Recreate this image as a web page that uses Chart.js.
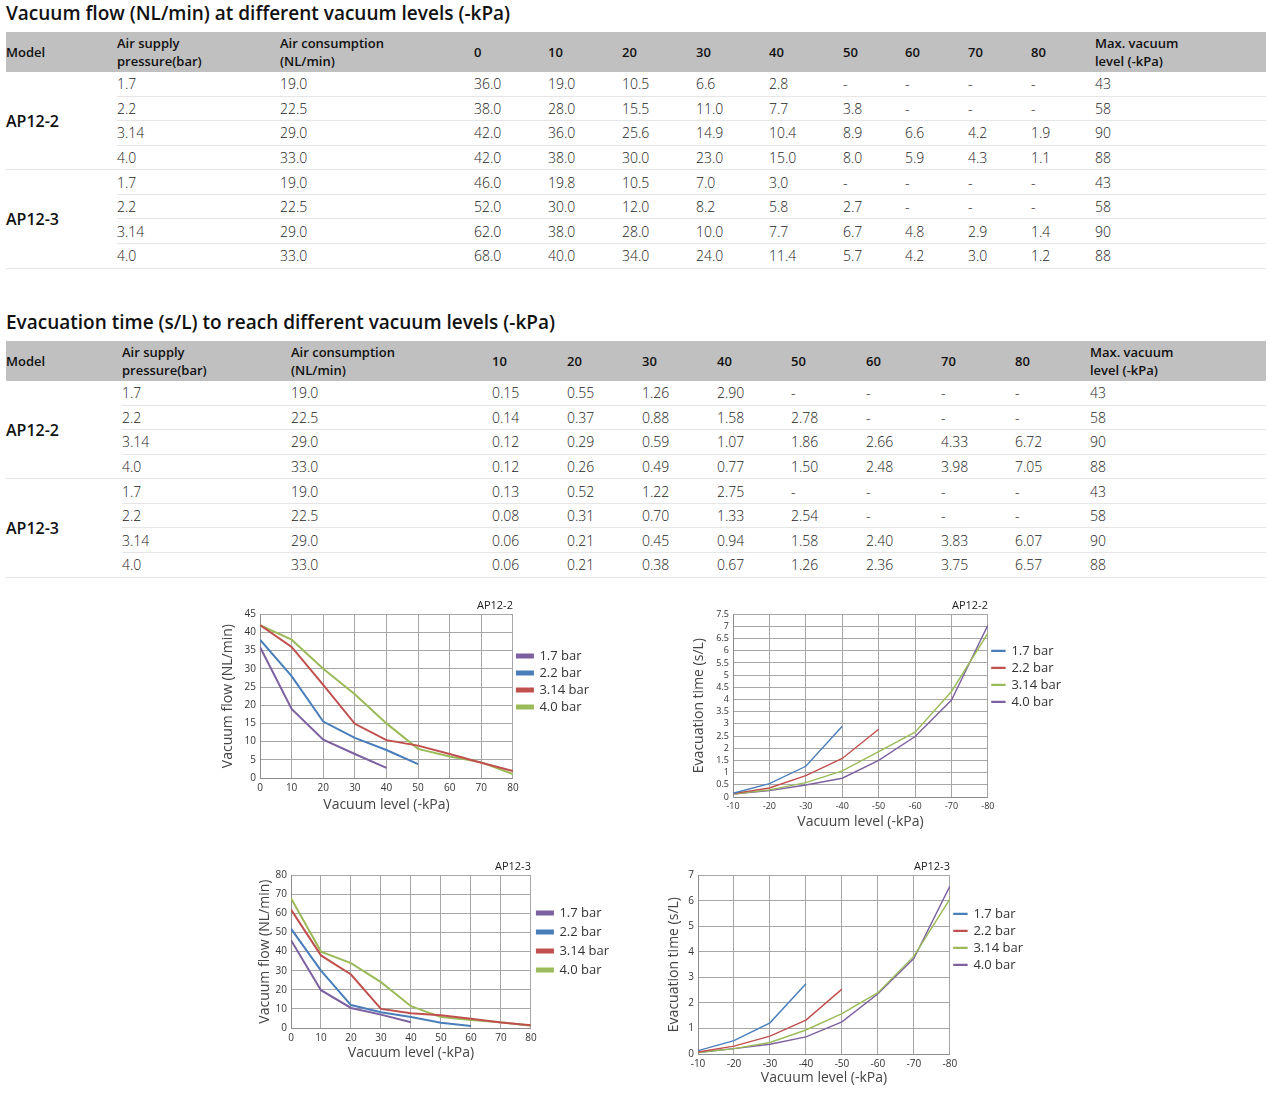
<!DOCTYPE html>
<html lang="en">
<head>
  <meta charset="UTF-8" />
  <title>AP12 vacuum performance</title>
  <script src="https://cdn.jsdelivr.net/npm/chart.js"></script>
  <style>
    body {
      margin: 0;
      font-family: 'Open Sans', sans-serif;
      background: #fff;
      color: #222;
      width: 1270px;
      height: 1102px;
      position: relative;
      overflow: hidden;
    }
    h2 {
      position: absolute;
      left: 6px;
      margin: 0;
      font-size: 19px;
      line-height: 24px;
      font-weight: 600;
      color: #111;
    }
    table {
      position: absolute;
      left: 6px;
      width: 1260px;
      border-collapse: collapse;
      table-layout: fixed;
    }
    th {
      background: #c0c0c0;
      font-size: 13px;
      font-weight: 600;
      line-height: 18px;
      height: 40px;
      padding: 0;
      text-align: left;
      vertical-align: middle;
      color: #111;
    }
    td {
      font-size: 14px;
      font-weight: 300;
      height: 23.57px;
      padding: 0;
      border-bottom: 1px solid #e6e6e6;
    }
    td.model {
      font-weight: 600;
      font-size: 16px;
      color: #111;
    }
    canvas { position: absolute; }
  </style>
</head>
<body>
  <h2 style="top:1px">Vacuum flow (NL/min) at different vacuum levels (-kPa)</h2>
  <table id="flowTable" style="top:32px"></table>
  <h2 style="top:310px">Evacuation time (s/L) to reach different vacuum levels (-kPa)</h2>
  <table id="evacTable" style="top:341px"></table>

  <canvas id="c1" width="387" height="218" style="left:212px;top:597px"></canvas>
  <canvas id="c2" width="383" height="235" style="left:688px;top:597px"></canvas>
  <canvas id="c3" width="369" height="205" style="left:250px;top:858px"></canvas>
  <canvas id="c4" width="378" height="230" style="left:655px;top:858px"></canvas>

  <script>
    // shared rows
    const models = ['AP12-2', 'AP12-3'];
    const pressures = ['1.7', '2.2', '3.14', '4.0'];
    const airCons = ['19.0', '22.5', '29.0', '33.0'];
    const maxVac = [43, 58, 90, 88];
    const barLabels = ['1.7 bar', '2.2 bar', '3.14 bar', '4.0 bar'];

    // vacuum flow (NL/min) at 0..80 -kPa
    const flowLevels = [0, 10, 20, 30, 40, 50, 60, 70, 80];
    const flow2_17 = [36.0, 19.0, 10.5, 6.6, 2.8];
    const flow2_22 = [38.0, 28.0, 15.5, 11.0, 7.7, 3.8];
    const flow2_314 = [42.0, 36.0, 25.6, 14.9, 10.4, 8.9, 6.6, 4.2, 1.9];
    const flow2_40 = [42.0, 38.0, 30.0, 23.0, 15.0, 8.0, 5.9, 4.3, 1.1];
    const flow3_17 = [46.0, 19.8, 10.5, 7.0, 3.0];
    const flow3_22 = [52.0, 30.0, 12.0, 8.2, 5.8, 2.7, 1.0];
    const flow3_314 = [62.0, 38.0, 28.0, 10.0, 7.7, 6.7, 4.8, 2.9, 1.4];
    const flow3_40 = [68.0, 40.0, 34.0, 24.0, 11.4, 5.7, 4.2, 3.0, 1.2];

    // evacuation time (s/L) to 10..80 -kPa
    const evacLevels = [10, 20, 30, 40, 50, 60, 70, 80];
    const evac2_17 = [0.15, 0.55, 1.26, 2.90];
    const evac2_22 = [0.14, 0.37, 0.88, 1.58, 2.78];
    const evac2_314 = [0.12, 0.29, 0.59, 1.07, 1.86, 2.66, 4.33, 6.72];
    const evac2_40 = [0.12, 0.26, 0.49, 0.77, 1.50, 2.48, 3.98, 7.05];
    const evac3_17 = [0.13, 0.52, 1.22, 2.75];
    const evac3_22 = [0.08, 0.31, 0.70, 1.33, 2.54];
    const evac3_314 = [0.06, 0.21, 0.45, 0.94, 1.58, 2.40, 3.83, 6.07];
    const evac3_40 = [0.06, 0.21, 0.38, 0.67, 1.26, 2.36, 3.75, 6.57];

    const flowSets = [[flow2_17, flow2_22, flow2_314, flow2_40], [flow3_17, flow3_22, flow3_314, flow3_40]];
    const evacSets = [[evac2_17, evac2_22, evac2_314, evac2_40], [evac3_17, evac3_22, evac3_314, evac3_40]];

    function buildTable(id, levels, sets, digits, widths) {
      let html = '<colgroup>' + widths.map(w => `<col style="width:${w}px">`).join('') + '</colgroup>';
      html += '<tr><th>Model</th><th>Air supply<br>pressure(bar)</th><th>Air consumption<br>(NL/min)</th>';
      levels.forEach(l => html += `<th>${l}</th>`);
      html += '<th>Max. vacuum<br>level (-kPa)</th></tr>';
      models.forEach((m, mi) => {
        pressures.forEach((p, pi) => {
          html += '<tr>';
          if (pi === 0) html += `<td class="model" rowspan="4">${m}</td>`;
          html += `<td>${p}</td><td>${airCons[pi]}</td>`;
          const vals = sets[mi][pi];
          levels.forEach((l, li) => {
            const v = vals[li];
            html += `<td>${v !== undefined && l <= maxVac[pi] ? v.toFixed(digits) : '-'}</td>`;
          });
          html += `<td>${maxVac[pi]}</td></tr>`;
        });
      });
      document.getElementById(id).innerHTML = html;
    }

    buildTable('flowTable', flowLevels, flowSets, 1, [111, 163, 194, 74, 74, 74, 73, 74, 62, 63, 63, 64, 171]);
    buildTable('evacTable', evacLevels, evacSets, 2, [116, 169, 201, 75, 75, 75, 74, 75, 75, 74, 75, 176]);

    // charts
    const FONT = "'Open Sans', sans-serif";
    const purple = '#7d60a0', blue = '#4a7ebb', red = '#c0504d', green = '#9bbb59';

    function makeChart(id, opt) {
      const datasets = opt.series.map((vals, i) => ({
        label: barLabels[i],
        data: vals.map((v, j) => ({ x: opt.levels[j], y: v })),
        borderColor: opt.colors[i],
        backgroundColor: opt.colors[i],
        borderWidth: opt.lineWidth,
        pointRadius: 0,
        tension: 0
      }));
      new Chart(document.getElementById(id), {
        type: 'line',
        data: { datasets },
        options: {
          responsive: false,
          animation: false,
          devicePixelRatio: 1,
          layout: { padding: 0 },
          plugins: {
            tooltip: { enabled: false },
            title: {
              display: true, text: opt.title, align: 'end', fullSize: false,
              color: '#222', font: { family: FONT, size: 11, weight: 'normal' },
              padding: { top: 2, bottom: 2 }
            },
            legend: {
              position: 'right', align: 'start', fullSize: false,
              title: { display: true, text: '', padding: { top: opt.legendTop, bottom: 0 }, font: { size: 1 } },
              labels: {
                boxWidth: opt.boxW, boxHeight: opt.boxH, padding: opt.legendGap,
                color: '#333', font: { family: FONT, size: 13 }
              }
            }
          },
          scales: {
            x: {
              type: 'linear', min: opt.levels[0], max: 80,
              ticks: { stepSize: 10, padding: 4, color: '#333', font: { family: FONT, size: opt.tickSize },
                callback: v => opt.neg ? '-' + v : v },
              grid: { color: '#a6a6a6', drawTicks: false },
              border: { color: '#8c8c8c' },
              title: { display: true, text: 'Vacuum level (-kPa)', color: '#444',
                font: { family: FONT, size: 14 }, padding: { top: 0, bottom: 2 } },
              afterFit: s => { s.height = opt.xH; }
            },
            y: {
              min: 0, max: opt.yMax,
              ticks: { stepSize: opt.yStep, autoSkip: false, padding: 4, color: '#333',
                font: { family: FONT, size: opt.tickSize }, callback: v => String(v) },
              grid: { color: '#a6a6a6', drawTicks: false },
              border: { color: '#8c8c8c' },
              title: { display: true, text: opt.yTitle, color: '#444',
                font: { family: FONT, size: 14 }, padding: { top: opt.yTitlePad, bottom: 0 } },
              afterFit: s => { s.width = opt.yW; }
            }
          }
        }
      });
    }

    makeChart('c1', { title: 'AP12-2', levels: flowLevels, series: flowSets[0], colors: [purple, blue, red, green],
      lineWidth: 2, boxW: 16, boxH: 3, yMax: 45, yStep: 5, neg: false, tickSize: 10, xH: 37, yW: 48, yTitlePad: 8,
      yTitle: 'Vacuum flow (NL/min)', legendTop: 30, legendGap: 4 });
    makeChart('c2', { title: 'AP12-2', levels: evacLevels, series: evacSets[0], colors: [blue, red, green, purple],
      lineWidth: 1.4, boxW: 13, boxH: 1, yMax: 7.5, yStep: 0.5, neg: true, tickSize: 9, xH: 35, yW: 45, yTitlePad: 3,
      yTitle: 'Evacuation time (s/L)', legendTop: 25, legendGap: 4 });
    makeChart('c3', { title: 'AP12-3', levels: flowLevels, series: flowSets[1], colors: [purple, blue, red, green],
      lineWidth: 2, boxW: 16, boxH: 3, yMax: 80, yStep: 10, neg: false, tickSize: 10, xH: 35, yW: 41, yTitlePad: 7,
      yTitle: 'Vacuum flow (NL/min)', legendTop: 24, legendGap: 6 });
    makeChart('c4', { title: 'AP12-3', levels: evacLevels, series: evacSets[1], colors: [blue, red, green, purple],
      lineWidth: 1.4, boxW: 13, boxH: 1, yMax: 7, yStep: 1, neg: true, tickSize: 10, xH: 34, yW: 43, yTitlePad: 11,
      yTitle: 'Evacuation time (s/L)', legendTop: 27, legendGap: 4 });
  </script>
</body>
</html>
